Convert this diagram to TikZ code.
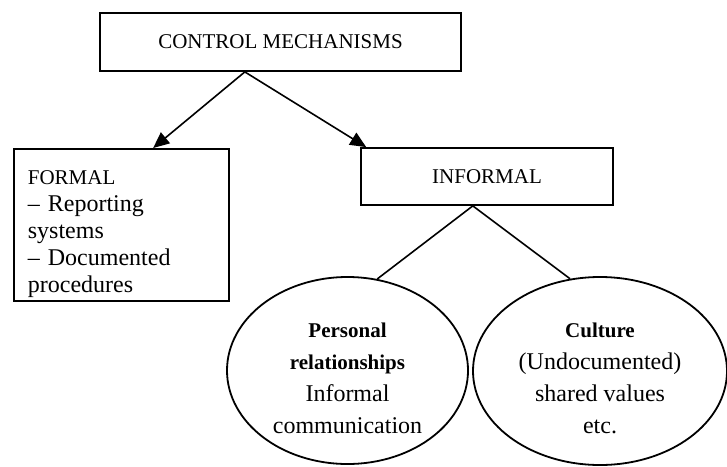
\documentclass[tikz,border=0pt]{standalone}
\usepackage{fontspec}
\setmainfont{Liberation Serif}
\usetikzlibrary{shapes.geometric,arrows.meta,calc}
\begin{document}
\begin{tikzpicture}[x=1pt,y=-1pt,
  box/.style={draw,line width=1.8pt,rectangle,inner sep=0pt},
  oval/.style={draw,line width=1.8pt,ellipse,inner sep=0pt,align=center,font=\fontsize{24}{32}\selectfont},
  capsfont/.style={font=\fontsize{21}{25}\selectfont},
  arr/.style={line width=1.6pt,-{Triangle[length=16pt,width=14pt]}},
  link/.style={line width=1.6pt}]
\useasboundingbox (0,0) rectangle (727,466);
\node[box,capsfont,minimum width=361pt,minimum height=58pt] (ctrl) at (280.5,42) {CONTROL MECHANISMS};
\node[box,capsfont,minimum width=252pt,minimum height=57pt] (inf) at (487,176.5) {INFORMAL};
\node[box,anchor=north west,minimum width=215pt,minimum height=152pt,inner xsep=14pt,text width=187pt,align=left,font=\fontsize{24}{27}\selectfont] (formal) at (13,148)
  {\rule{0pt}{33pt}{\fontsize{21}{27}\selectfont FORMAL}\\– Reporting\\systems\\– Documented\\procedures};
\node[oval,minimum width=241pt,minimum height=187pt] (pers) at (347.5,370.5)
  {\rule{0pt}{30pt}{\fontsize{21}{32}\selectfont\bfseries Personal}\\{\fontsize{21}{32}\selectfont\bfseries relationships}\\Informal\\communication};
\node[oval,minimum width=254pt,minimum height=188pt] (cult) at (600,371)
  {\rule{0pt}{30pt}{\fontsize{21}{32}\selectfont\bfseries Culture}\\(Undocumented)\\shared values\\etc.};
\coordinate (ctrlfoot) at ($(ctrl.south west)!0.4017!(ctrl.south east)$);
\coordinate (inffoot) at ($(inf.south west)!0.444!(inf.south east)$);
\draw[arr] (ctrlfoot) -- ($(formal.north west)!0.6465!(formal.north east)$);
\draw[arr] (ctrlfoot) -- ($(inf.north west)!0.024!(inf.north east)$);
\draw[link] (inffoot) -- (pers.72);
\draw[link] (inffoot) -- (cult.108);
\end{tikzpicture}
\end{document}
